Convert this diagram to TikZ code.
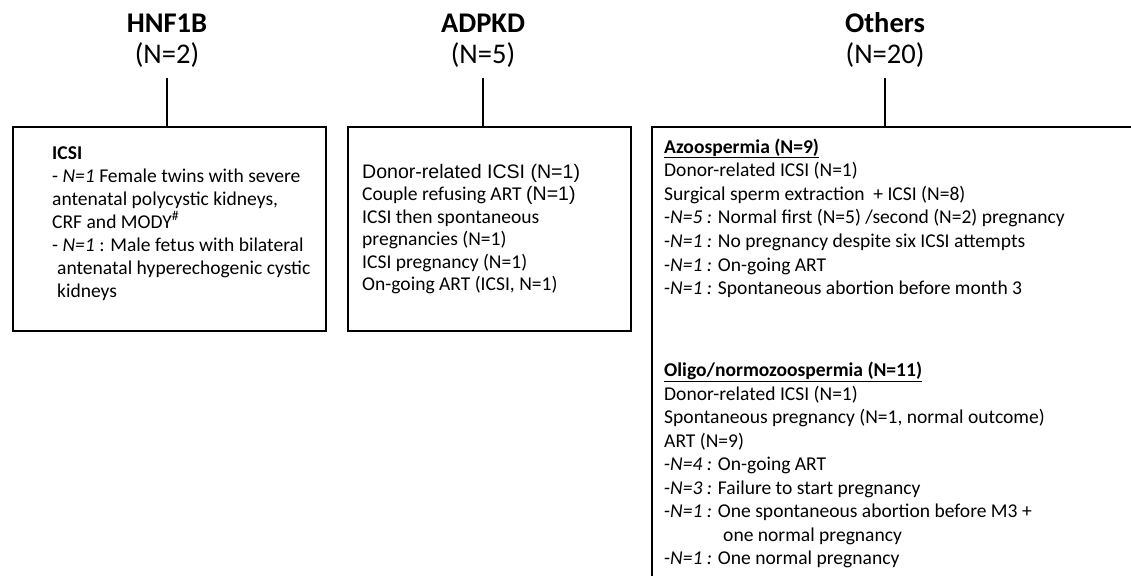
\documentclass[tikz,border=0pt]{standalone}
\usepackage{fontspec}
\setmainfont{Carlito}
\newfontfamily\arialf{Liberation Sans}
\begin{document}
\begin{tikzpicture}[x=1pt,y=-1pt,
  title/.style={font=\fontsize{28.5}{30}\selectfont, anchor=base, inner sep=0pt},
  ln/.style={font=\fontsize{19.55}{23}\selectfont, anchor=base west, inner sep=0pt},
  frame/.style={draw, line width=1.8pt, anchor=north west, inner sep=0pt},
  conn/.style={line width=1.8pt}]
\useasboundingbox (0,0) rectangle (1131,575);
% titles
\node[title] (t1) at (167,33) {\bfseries HNF1B};
\node[title] (n1) at (167,64) {(N=2)};
\node[title] (t2) at (483,33) {\bfseries ADPKD};
\node[title] (n2) at (483,64) {(N=5)};
\node[title] (t3) at (885,33) {\bfseries Others};
\node[title] (n3) at (885,64) {(N=20)};
% boxes
\node[frame, minimum width=313pt, minimum height=204pt] (b1) at (12,126) {};
\node[frame, minimum width=283pt, minimum height=204pt] (b2) at (347,126) {};
\node[frame, minimum width=600pt, minimum height=600pt] (b3) at (651,126) {};
% connectors
\coordinate (c1) at (167,78);
\coordinate (c2) at (483,78);
\coordinate (c3) at (885,78);
\draw[conn] (c1) -- (c1 |- b1.north);
\draw[conn] (c2) -- (c2 |- b2.north);
\draw[conn] (c3) -- (c3 |- b3.north);
% box 1
\node[ln] (a1) at (52,159) {\bfseries ICSI};
\node[ln] (a2) at (52,182) {- \textit{N=1} Female twins with severe};
\node[ln] (a3) at (52,205) {antenatal polycystic kidneys,};
\node[ln] (a4) at (52,228) {CRF and MODY\textsuperscript{\#}};
\node[ln] (a5) at (52,251) {- \textit{N=1} : Male fetus with bilateral};
\node[ln] (a6) at (57,274) {antenatal hyperechogenic cystic};
\node[ln] (a7) at (57,297) {kidneys};
% box 2
\node[ln] (d1) at (362,178) {\arialf Donor-related ICSI (N=1)};
\node[ln] (d2) at (362,200.5) {Couple refusing ART {\arialf(N=1)}};
\node[ln] (d3) at (362,223) {ICSI then spontaneous};
\node[ln] (d4) at (362,245.5) {pregnancies (N=1)};
\node[ln] (d5) at (362,268) {ICSI pregnancy (N=1)};
\node[ln] (d6) at (362,290.5) {On-going ART (ICSI, N=1)};
% box 3, azoospermia
\node[ln] (z0) at (664,153) {\underline{\bfseries Azoospermia (N=9)}};
\node[ln] (z1) at (664,176.6) {Donor-related ICSI (N=1)};
\node[ln] (z2) at (664,200.2) {Surgical sperm extraction~ + ICSI (N=8)};
\node[ln] (z3) at (664,223.8) {-\textit{N=5 :} Normal first (N=5) /second (N=2) pregnancy};
\node[ln] (z4) at (664,247.4) {-\textit{N=1 :} No pregnancy despite six ICSI attempts};
\node[ln] (z5) at (664,271) {-\textit{N=1 :} On-going ART};
\node[ln] (z6) at (664,294.6) {-\textit{N=1 :} Spontaneous abortion before month 3};
% box 3, oligo
\node[ln] (o0) at (664,376.5) {\underline{\bfseries Oligo/normozoospermia (N=11)}};
\node[ln] (o1) at (664,400) {Donor-related ICSI (N=1)};
\node[ln] (o2) at (664,423.5) {Spontaneous pregnancy (N=1, normal outcome)};
\node[ln] (o3) at (664,447) {ART (N=9)};
\node[ln] (o4) at (664,470.5) {-\textit{N=4 :} On-going ART};
\node[ln] (o5) at (664,494) {-\textit{N=3 :} Failure to start pregnancy};
\node[ln] (o6) at (664,517.5) {-\textit{N=1 :} One spontaneous abortion before M3 +};
\node[ln] (o7) at (723,541) {one normal pregnancy};
\node[ln] (o8) at (664,564.5) {-\textit{N=1 :} One normal pregnancy};
\end{tikzpicture}
\end{document}
